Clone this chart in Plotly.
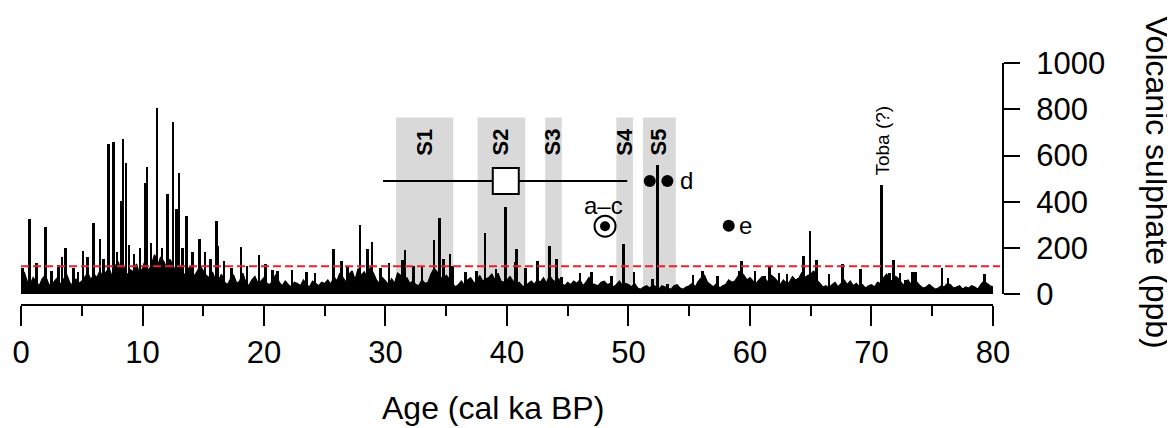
import numpy as np
import plotly.graph_objects as go

# ---------------- data ----------------
# background volcanic sulphate (ppb), sampled every 0.25 ka from 0 to 80 ka
bg_step = 0.25
bg_val = [
    60, 95, 55, 40, 70, 50, 35, 65, 80, 45, 30, 55, 70, 40, 60, 85, 50, 35, 65, 45,
    55, 75, 90, 60, 85, 70, 100, 65, 95, 110, 75, 120, 140, 90, 115, 80, 105, 95, 130, 85,
    110, 150, 95, 130, 170, 120, 160, 140, 110, 150, 125, 90, 130, 100, 80, 110, 120, 75, 95, 120,
    100, 80, 70, 95, 60, 55, 85, 50, 40, 65, 80, 45, 55, 90, 50, 35, 60, 75, 45, 55,
    70, 45, 40, 60, 85, 50, 35, 55, 40, 30, 50, 45, 35, 60, 40, 30, 55, 45, 35, 50,
    45, 60, 40, 75, 55, 90, 70, 50, 85, 100, 60, 110, 80, 95, 70, 115, 90, 60, 45, 70,
    55, 40, 65, 45, 90, 80, 60, 70, 45, 55, 40, 35, 60, 45, 50, 85, 110, 95, 75, 60,
    80, 65, 45, 30, 40, 55, 35, 60, 70, 50, 45, 80, 55, 65, 70, 85, 60, 90, 55, 50,
    60, 75, 55, 40, 50, 35, 30, 45, 55, 40, 60, 50, 70, 45, 80, 60, 50, 65, 45, 35,
    50, 40, 55, 45, 60, 35, 50, 70, 45, 40, 35, 50, 55, 40, 45, 30, 40, 55, 35, 45,
    40, 30, 45, 25, 20, 30, 35, 25, 40, 30, 20, 35, 30, 25, 20, 35, 40, 25, 20, 30,
    35, 45, 30, 55, 70, 80, 50, 40, 30, 45, 25, 35, 40, 60, 50, 55, 75, 95, 80, 60,
    70, 55, 45, 60, 75, 65, 50, 80, 70, 55, 40, 60, 45, 50, 75, 60, 65, 90, 70, 80,
    85, 100, 60, 45, 30, 35, 25, 40, 50, 30, 45, 60, 40, 55, 35, 45, 30, 40, 25, 35,
    40, 30, 50, 45, 70, 85, 60, 55, 75, 65, 45, 35, 60, 40, 30, 50, 35, 25, 30, 40,
    30, 20, 25, 35, 30, 45, 40, 25, 30, 35, 20, 30, 25, 35, 30, 20, 40, 55, 45, 35,
    30,
]

# individual volcanic spikes: age (ka) and sulphate (ppb)
spike_age = [
    0.14, 0.68, 1.3, 2.0, 2.5, 3.1, 3.37, 3.64, 4.3, 4.7, 5.1, 5.45, 5.95, 6.5, 6.8,
    7.18, 7.6, 7.9, 8.27, 8.4, 8.63, 8.9, 9.3, 9.8, 10.2, 10.38, 10.7, 11.2, 11.6,
    12.05, 12.5, 12.8, 13.0, 13.3, 13.6, 14.1, 14.7, 15.15, 15.6, 16.1, 16.2, 16.7,
    17.3, 18.1, 18.6, 19.6, 20.1, 20.7, 21.1, 22.3, 23.5, 24.2, 25.7, 26.4, 26.9,
    27.9, 28.5, 28.9, 29.6, 30.3, 31.4, 31.6, 32.3, 33.0, 34.0, 34.45, 34.8, 35.3,
    35.5, 36.6, 37.5, 38.2, 39.1, 39.9, 40.65, 40.8, 41.5, 42.5, 43.5, 44.1, 44.5,
    46.0, 46.95, 48.6, 49.6, 50.45, 51.95, 52.4, 53.2, 55.3, 56.1, 57.3, 59.1, 59.3,
    60.4, 61.2, 61.6, 62.4, 63.05, 64.0, 64.4, 64.95, 65.5, 66.5, 67.6, 69.1, 70.85,
    71.5, 71.8, 72.35, 72.8, 73.4, 73.6, 75.8, 76.3, 79.3,
]
spike_val = [
    112, 323, 131, 290, 100, 124, 157, 200, 110, 95, 185, 159, 305, 236, 150,
    648, 658, 180, 402, 670, 566, 210, 170, 200, 480, 550, 220, 803, 196,
    432, 745, 367, 525, 200, 336, 180, 239, 180, 150, 314, 207, 141,
    110, 202, 120, 167, 127, 102, 98, 102, 95, 90, 195, 141, 120,
    298, 195, 226, 112, 134, 145, 189, 120, 119, 231, 327, 150, 172,
    119, 95, 100, 261, 105, 374, 137, 195, 110, 141, 207, 152, 74,
    90, 96, 76, 217, 95, 65, 559, 44, 80, 100, 75, 97, 141,
    100, 76, 117, 90, 87, 70, 163, 272, 148, 85, 130, 109, 469,
    90, 145, 90, 61, 93, 95, 112, 68, 87,
]

# stadial bands
band_names = ["S1", "S2", "S3", "S4", "S5"]
band_start = [30.87, 37.58, 43.14, 49.0, 51.2]
band_end = [35.58, 41.5, 44.51, 50.37, 53.9]
band_top = 765
band_label_y = 659

threshold = 120

# dated tephra / age estimate
sq_age, sq_val, sq_err_minus, sq_err_plus = 39.9, 490, 10.1, 10.0
d_age = [51.75, 53.2]
d_val = [490, 490]
e_age, e_val = 58.25, 296
ac_age, ac_val = 48.07, 294

toba_age, toba_label_val = 70.9, 667

x_ticks = [0, 10, 20, 30, 40, 50, 60, 70, 80]
y_ticks = [0, 200, 400, 600, 800, 1000]

# ---------------- figure ----------------
FONT = "Liberation Sans, Arial, sans-serif"
bg_age = np.arange(len(bg_val)) * bg_step

fig = go.Figure()

fig.add_trace(go.Scatter(
    x=bg_age, y=bg_val, mode="lines",
    line=dict(color="black", width=1.5),
    fill="tozeroy", fillcolor="black", hoverinfo="skip",
))
fig.add_trace(go.Bar(
    x=spike_age, y=spike_val, width=0.22,
    marker=dict(color="black", line=dict(width=0)),
))

# age estimate with horizontal error bar
fig.add_trace(go.Scatter(
    x=[sq_age], y=[sq_val], mode="markers",
    marker=dict(symbol="square", size=26, color="white",
                line=dict(color="black", width=2)),
    error_x=dict(type="data", symmetric=False, array=[sq_err_plus],
                 arrayminus=[sq_err_minus], width=0, thickness=2, color="black"),
))
fig.add_trace(go.Scatter(
    x=d_age + [e_age], y=d_val + [e_val], mode="markers",
    marker=dict(symbol="circle", size=12, color="black"),
))
fig.add_trace(go.Scatter(
    x=[ac_age], y=[ac_val], mode="markers",
    marker=dict(symbol="circle-open", size=21, color="black",
                line=dict(color="black", width=2)),
))
fig.add_trace(go.Scatter(
    x=[ac_age], y=[ac_val], mode="markers",
    marker=dict(symbol="circle", size=10, color="black"),
))

shapes = []
for s, e in zip(band_start, band_end):
    shapes.append(dict(type="rect", xref="x", yref="y", x0=s, x1=e, y0=0, y1=band_top,
                       fillcolor="#d9d9d9", line=dict(width=0), layer="below"))
shapes.append(dict(type="line", xref="paper", yref="y", x0=0, x1=0.997,
                   y0=threshold, y1=threshold,
                   line=dict(color="#e8232b", width=2, dash="8px,4px"), layer="above"))

annotations = []
for name, s, e in zip(band_names, band_start, band_end):
    annotations.append(dict(x=(s + e) / 2, y=band_label_y, xref="x", yref="y",
                            text="<b>%s</b>" % name, textangle=-90, showarrow=False,
                            font=dict(family=FONT, size=22, color="black")))
annotations += [
    dict(x=d_age[1] + 0.9, y=d_val[1], xref="x", yref="y", text="d", showarrow=False,
         xanchor="left", font=dict(family=FONT, size=24, color="black")),
    dict(x=e_age + 0.7, y=e_val, xref="x", yref="y", text="e", showarrow=False,
         xanchor="left", font=dict(family=FONT, size=24, color="black")),
    dict(x=ac_age - 0.15, y=384, xref="x", yref="y", text="a\u2013c", showarrow=False,
         font=dict(family=FONT, size=24, color="black")),
    dict(x=toba_age, y=toba_label_val, xref="x", yref="y", text="Toba (?)",
         textangle=-90, showarrow=False, font=dict(family=FONT, size=19, color="black")),
    dict(x=0.4807, y=-0.36, xref="paper", yref="paper", text="Age (cal ka BP)",
         xanchor="center", yanchor="middle", showarrow=False,
         font=dict(family=FONT, size=32, color="black")),
    dict(x=1.1568, y=0.428, xref="paper", yref="paper", text="Volcanic sulphate (ppb)",
         xanchor="center", yanchor="middle", textangle=90, showarrow=False,
         font=dict(family=FONT, size=32, color="black")),
]

# the page body adds an 8 px margin; compensate so the plot lands where the reference has it
fig.update_layout(
    width=1175, height=428,
    margin=dict(l=13, r=180, t=12, b=131),
    paper_bgcolor="white", plot_bgcolor="white",
    showlegend=False, bargap=0,
    font=dict(family=FONT, size=31, color="black"),
    shapes=shapes, annotations=annotations,
    xaxis=dict(domain=[0, 0.9898], anchor="free", position=0, range=[0, 80],
               automargin=False,
               tickvals=x_ticks, ticks="outside", ticklen=20, tickwidth=2,
               tickcolor="black", showline=True, linewidth=2, linecolor="black",
               showgrid=False, zeroline=False,
               minor=dict(dtick=5, tick0=0, ticks="outside", ticklen=10,
                          tickwidth=2, tickcolor="black", showgrid=False),
               tickfont=dict(family=FONT, size=31, color="black")),
    yaxis=dict(domain=[0.0386, 0.848], anchor="free", position=1.0, side="right",
               automargin=False, ticklabelstandoff=10,
               range=[0, 1000], tickvals=y_ticks, ticks="outside", ticklen=16,
               tickwidth=2, tickcolor="black", showline=True, linewidth=2,
               linecolor="black", showgrid=False, zeroline=False,
               tickfont=dict(family=FONT, size=31, color="black")),
)

fig.write_html("out.html")
